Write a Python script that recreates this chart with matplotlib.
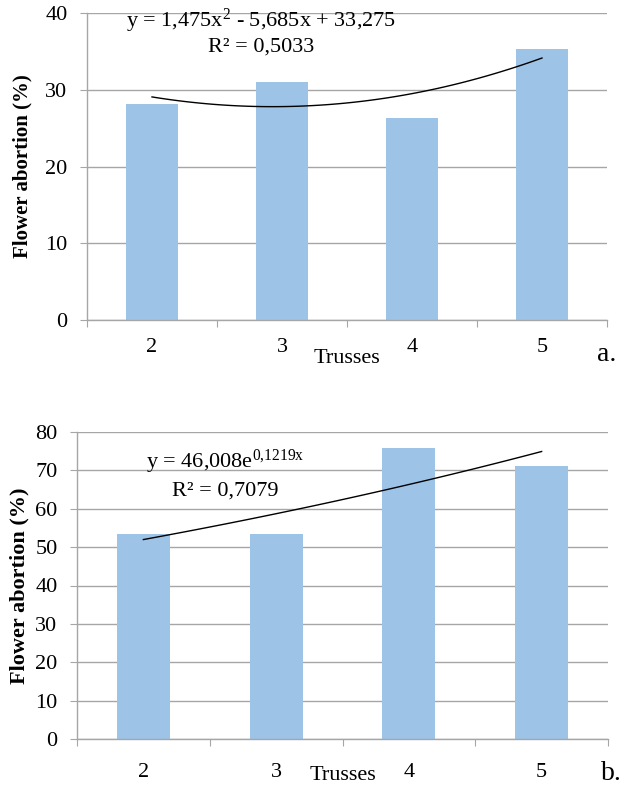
import numpy as np
import matplotlib
matplotlib.use("Agg")
import matplotlib.pyplot as plt
from matplotlib.ticker import FixedLocator, NullFormatter

plt.rcParams['font.family'] = ['Liberation Serif', 'DejaVu Serif']
plt.rcParams['mathtext.fontset'] = 'custom'
plt.rcParams['mathtext.rm'] = 'Liberation Serif'
plt.rcParams['mathtext.it'] = 'Liberation Serif:italic'

# ---- data ----
trusses = ["2", "3", "4", "5"]
abortion_a = [28.1, 31.0, 26.3, 35.3]
abortion_b = [53.4, 53.4, 75.8, 71.2]
quad_coef_a = [1.475, -5.685, 33.275]    # y = a x^2 + b x + c
exp_coef_b = [46.008, 0.1219]            # y = A e^(k x)
eq_a = r"y = 1,475x$^{2}$ - 5,685x + 33,275"
r2_a = "R² = 0,5033"
eq_b = r"y = 46,008e$^{\mathrm{0{,}1219x}}$"
r2_b = "R² = 0,7079"
yticks_a = [0, 10, 20, 30, 40]
yticks_b = [0, 10, 20, 30, 40, 50, 60, 70, 80]

bar_color = "#9DC3E6"
grid_color = "#a6a6a6"

fig = plt.figure(figsize=(6.29, 7.86), dpi=100)
ax1 = fig.add_axes([87/629, 1-320/786, (607-87)/629, (320-13)/786])
ax2 = fig.add_axes([77/629, 1-739/786, (608-77)/629, (739-432)/786])


def style(ax, yticks, ymax, labx, laby_x, xpad, ylsize):
    x = np.arange(len(trusses))
    ax.set_xlim(-0.5, len(trusses) - 0.5)
    ax.set_ylim(0, ymax)
    ax.set_yticks(yticks)
    ax.yaxis.grid(True, color=grid_color, linewidth=1.0)
    ax.set_axisbelow(True)
    for s in ["top", "right"]:
        ax.spines[s].set_visible(False)
    for s in ["left", "bottom"]:
        ax.spines[s].set_color(grid_color)
        ax.spines[s].set_linewidth(1.0)
    ax.xaxis.set_major_locator(FixedLocator(np.arange(-0.5, len(trusses), 1.0)))
    ax.xaxis.set_major_formatter(NullFormatter())
    ax.xaxis.set_minor_locator(FixedLocator(x))
    ax.set_xticklabels(trusses, minor=True)
    ax.tick_params(axis="x", which="major", length=5, color=grid_color, direction="out")
    ax.tick_params(axis="x", which="minor", length=0, pad=xpad, labelsize=16)
    ax.tick_params(axis="y", length=5, color=grid_color, labelsize=16, pad=9)
    ax.set_xlabel("Trusses", fontsize=16)
    ax.xaxis.set_label_coords(0.5, labx)
    ax.xaxis.label.set_va("center")
    ax.set_ylabel("Flower abortion (%)", fontsize=ylsize, fontweight="bold")
    ax.yaxis.set_label_coords(laby_x, 0.5)


# ---- panel a ----
x = np.arange(len(trusses))
ax1.bar(x, abortion_a, width=0.4, color=bar_color)
style(ax1, yticks_a, 40, -0.124, -0.104, 13, 15)
xs = np.linspace(1, 4, 100)
ys = np.polyval(quad_coef_a, xs)
ax1.plot(xs - 1, ys, color="black", linewidth=1.0)
ax1.text(0.84, 39.0, eq_a, fontsize=16, ha="center", va="center")
ax1.text(0.84, 35.6, r2_a, fontsize=16, ha="center", va="center")
fig.text(607/629, 1-355/786, "a.", fontsize=20, ha="center", va="center")

# ---- panel b ----
ax2.bar(x, abortion_b, width=0.4, color=bar_color)
style(ax2, yticks_b, 80, -0.118, -0.089, 17, 16)
yb = exp_coef_b[0] * np.exp(exp_coef_b[1] * xs)
ax2.plot(xs - 1, yb, color="black", linewidth=1.0)
ax2.text(0.62, 72.2, eq_b, fontsize=16, ha="center", va="center")
ax2.text(0.62, 64.6, r2_b, fontsize=16, ha="center", va="center")
fig.text(611/629, 1-773/786, "b.", fontsize=20, ha="center", va="center")

fig.savefig("out.png", dpi=100)
